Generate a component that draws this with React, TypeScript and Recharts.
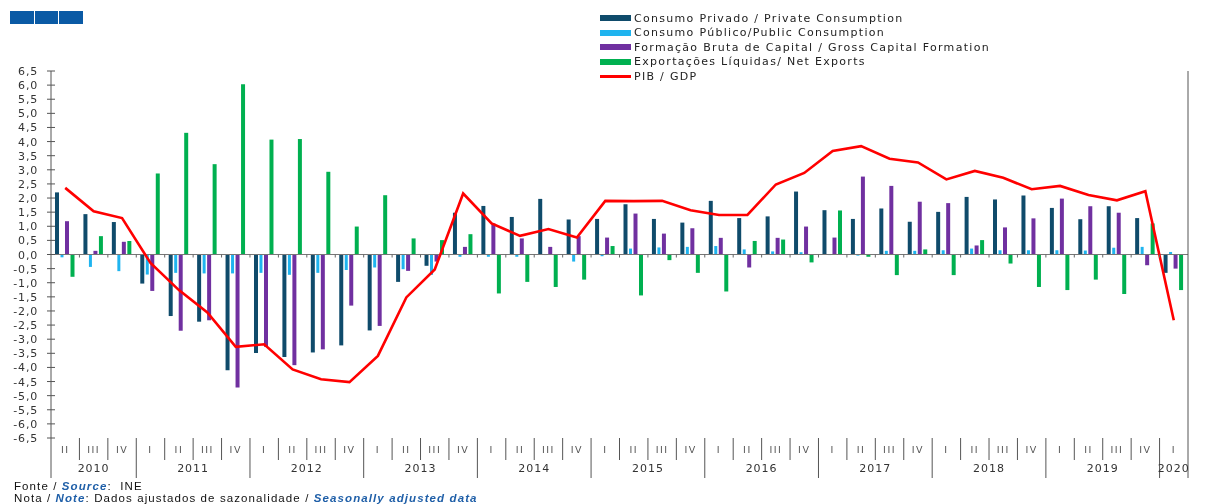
import React from "react";
import { Bar, ComposedChart, Line, ReferenceLine, XAxis, YAxis } from "recharts";

const quarters = [
  "II", "III", "IV",
  "I", "II", "III", "IV", "I", "II", "III", "IV", "I", "II", "III", "IV",
  "I", "II", "III", "IV", "I", "II", "III", "IV", "I", "II", "III", "IV",
  "I", "II", "III", "IV", "I", "II", "III", "IV", "I", "II", "III", "IV",
  "I",
];

const years = [
  "2010", "2010", "2010",
  "2011", "2011", "2011", "2011", "2012", "2012", "2012", "2012",
  "2013", "2013", "2013", "2013", "2014", "2014", "2014", "2014",
  "2015", "2015", "2015", "2015", "2016", "2016", "2016", "2016",
  "2017", "2017", "2017", "2017", "2018", "2018", "2018", "2018",
  "2019", "2019", "2019", "2019", "2020",
];

const privateConsumption = [
  2.2, 1.43, 1.15, -1.03, -2.18, -2.38, -4.1, -3.49, -3.63, -3.47,
  -3.22, -2.69, -0.97, -0.4, 1.48, 1.72, 1.33, 1.97, 1.24, 1.26,
  1.78, 1.26, 1.13, 1.9, 1.29, 1.35, 2.23, 1.57, 1.26, 1.63,
  1.16, 1.51, 2.04, 1.95, 2.09, 1.65, 1.25, 1.71, 1.29, -0.65,
];

const publicConsumption = [
  -0.1, -0.44, -0.59, -0.71, -0.65, -0.67, -0.67, -0.65, -0.72, -0.65,
  -0.55, -0.46, -0.52, -0.72, -0.08, -0.08, -0.08, -0.02, -0.25, -0.06,
  0.21, 0.25, 0.27, 0.3, 0.18, 0.11, 0.08, -0.02, -0.04, 0.13,
  0.13, 0.15, 0.21, 0.15, 0.15, 0.15, 0.14, 0.24, 0.27, 0.09,
];

const capitalFormation = [
  1.18, 0.13, 0.45, -1.29, -2.7, -2.33, -4.71, -3.27, -3.92, -3.36,
  -1.81, -2.53, -0.58, -0.25, 0.27, 1.1, 0.57, 0.27, 0.65, 0.6,
  1.45, 0.74, 0.93, 0.59, -0.46, 0.59, 0.99, 0.6, 2.76, 2.43,
  1.87, 1.82, 0.32, 0.96, 1.28, 1.98, 1.71, 1.48, -0.38, -0.5,
];

const netExports = [
  -0.79, 0.65, 0.48, 2.87, 4.31, 3.2, 6.03, 4.07, 4.09, 2.93,
  0.99, 2.1, 0.57, 0.51, 0.72, -1.38, -0.97, -1.15, -0.89, 0.3,
  -1.45, -0.2, -0.65, -1.31, 0.48, 0.53, -0.28, 1.56, -0.08, -0.73,
  0.18, -0.73, 0.51, -0.32, -1.15, -1.26, -0.89, -1.4, 1.1, -1.26,
];

const gdp = [
  2.36, 1.53, 1.29, -0.3, -1.26, -2.05, -3.27, -3.18, -4.07, -4.42,
  -4.52, -3.59, -1.52, -0.53, 2.16, 1.1, 0.66, 0.9, 0.6, 1.9,
  1.89, 1.9, 1.57, 1.4, 1.4, 2.48, 2.89, 3.67, 3.84, 3.39,
  3.26, 2.66, 2.96, 2.72, 2.31, 2.43, 2.11, 1.92, 2.24, -2.33,
];

const yTicks = [
  -6.5, -6, -5.5, -5, -4.5, -4, -3.5, -3, -2.5, -2, -1.5, -1, -0.5, 0,
  0.5, 1, 1.5, 2, 2.5, 3, 3.5, 4, 4.5, 5, 5.5, 6, 6.5,
];

const legendItems = [
  { label: "Consumo Privado / Private Consumption", color: "#0f4b6b", line: false },
  { label: "Consumo Público/Public Consumption", color: "#1fb4ef", line: false },
  { label: "Formação Bruta de Capital / Gross Capital Formation", color: "#7030a0", line: false },
  { label: "Exportações Líquidas/ Net Exports", color: "#00b050", line: false },
  { label: "PIB / GDP", color: "#ff0000", line: true },
];

const W = 1226;
const H = 504;
const TOP = 71;
const LEFT_W = 51;
const RIGHT_W = 38;
const X_H = 66;
const PLOT_W = W - LEFT_W - RIGHT_W;
const PLOT_H = H - TOP - X_H;
const BAND = PLOT_W / quarters.length;
const FONT = "'DejaVu Sans', Verdana, sans-serif";

const data = quarters.map((q, i) => ({
  key: `${years[i]}-${q}`,
  q,
  year: years[i],
  priv: privateConsumption[i],
  pub: publicConsumption[i],
  cap: capitalFormation[i],
  net: netExports[i],
  gdp: gdp[i],
}));

const yearSpan: Record<string, { first: number; last: number }> = {};
years.forEach((y, i) => {
  if (!yearSpan[y]) yearSpan[y] = { first: i, last: i };
  yearSpan[y].last = i;
});

const fmt = (v: number) => v.toFixed(1).replace(".", ",");

function QuarterTick(props: any) {
  const { x, y, payload } = props;
  const i = payload.index;
  const d = data[i];
  const right = x + BAND / 2;
  const last = i === data.length - 1;
  const yearEnd = last || data[i + 1].year !== d.year;
  const zeroY = y - PLOT_H / 2;
  const span = yearSpan[d.year];
  const mid = (span.first + span.last) / 2;
  return (
    <g>
      {i === 0 && (
        <line x1={x - BAND / 2} x2={x - BAND / 2} y1={y} y2={y + 40} stroke="#555" />
      )}
      <line x1={right} x2={right} y1={y} y2={y + (yearEnd ? 40 : 22)} stroke="#555" />
      {!last && (
        <line x1={right} x2={right} y1={zeroY} y2={zeroY + 3} stroke="#666" />
      )}
      <text
        x={x}
        y={y + 15}
        textAnchor="middle"
        fontFamily={FONT}
        fontSize={9.5}
        letterSpacing={1.5}
        fill="#555"
      >
        {d.q}
      </text>
      {Math.floor(mid) === i && (
        <text
          x={x + (mid - i) * BAND}
          y={y + 34}
          textAnchor="middle"
          fontFamily={FONT}
          fontSize={11}
          letterSpacing={1}
          fill="#333"
        >
          {d.year}
        </text>
      )}
    </g>
  );
}

function LeftTick(props: any) {
  const { x, y, payload } = props;
  return (
    <g>
      <line x1={x - 4} x2={x + 4} y1={y} y2={y} stroke="#555" />
      <text x={x - 13} y={y + 4} textAnchor="end" fontFamily={FONT} fontSize={11} letterSpacing={0.8} fill="#333">
        {fmt(payload.value)}
      </text>
    </g>
  );
}

function RightTick(props: any) {
  const { x, y, payload } = props;
  return (
    <g>
      <line x1={x - 4} x2={x + 4} y1={y} y2={y} stroke="#555" />
      <text x={x + 13} y={y + 4} textAnchor="start" fontFamily={FONT} fontSize={11} letterSpacing={0.8} fill="#333">
        {fmt(payload.value)}
      </text>
    </g>
  );
}

export default function App() {
  return (
    <div
      style={{
        position: "absolute",
        left: 0,
        top: 0,
        width: W,
        height: H,
        background: "#fff",
        willChange: "transform",
      }}
    >
      <div style={{ position: "absolute", left: 10, top: 11, display: "flex", gap: 1 }}>
        {[0, 1, 2].map((k) => (
          <div key={k} style={{ width: 23.5, height: 13, background: "#0a5aa5" }} />
        ))}
      </div>

      <div style={{ position: "absolute", left: 600, top: 11 }}>
        {legendItems.map((it) => (
          <div key={it.label} style={{ display: "flex", alignItems: "center", height: 14.5 }}>
            <span
              style={{
                width: 31,
                height: it.line ? 3 : 6,
                background: it.color,
                marginRight: 3,
                display: "inline-block",
              }}
            />
            <span style={{ fontFamily: FONT, fontSize: 11, letterSpacing: 1.3, color: "#222", whiteSpace: "nowrap" }}>
              {it.label}
            </span>
          </div>
        ))}
      </div>

      <ComposedChart
        width={W}
        height={H}
        data={data}
        margin={{ top: TOP, right: 0, bottom: 0, left: 0 }}
        barGap={1.5}
      >
        <XAxis
          dataKey="key"
          xAxisId="x"
          height={X_H}
          interval={0}
          axisLine={false}
          tickLine={false}
          tickSize={0}
          tickMargin={0}
          tick={<QuarterTick />}
        />
        <YAxis
          yAxisId="left"
          domain={[-6.5, 6.5]}
          ticks={yTicks}
          width={LEFT_W}
          interval={0}
          tickLine={false}
          tickSize={0}
          tickMargin={0}
          axisLine={{ stroke: "#555" }}
          tick={<LeftTick />}
        />
        <YAxis
          yAxisId="right"
          orientation="right"
          domain={[-6.5, 6.5]}
          ticks={yTicks}
          width={RIGHT_W}
          interval={0}
          tickLine={false}
          tickSize={0}
          tickMargin={0}
          axisLine={{ stroke: "#555" }}
          tick={<RightTick />}
        />
        <ReferenceLine xAxisId="x" yAxisId="left" y={0} stroke="#777" />
        <Bar xAxisId="x" yAxisId="left" dataKey="priv" fill="#0f4b6b" barSize={4} isAnimationActive={false} />
        <Bar xAxisId="x" yAxisId="left" dataKey="pub" fill="#1fb4ef" barSize={3} isAnimationActive={false} />
        <Bar xAxisId="x" yAxisId="left" dataKey="cap" fill="#7030a0" barSize={4} isAnimationActive={false} />
        <Bar xAxisId="x" yAxisId="left" dataKey="net" fill="#00b050" barSize={4} isAnimationActive={false} />
        <Line
          xAxisId="x"
          yAxisId="left"
          type="linear"
          dataKey="gdp"
          stroke="#ff0000"
          strokeWidth={2.6}
          dot={false}
          isAnimationActive={false}
        />
      </ComposedChart>

      <div
        style={{
          position: "absolute",
          left: 14,
          top: 480,
          fontFamily: "'Liberation Sans', Arial, sans-serif",
          fontSize: 11.5,
          letterSpacing: 1.1,
          lineHeight: "12px",
          color: "#111",
          whiteSpace: "nowrap",
        }}
      >
        <div>
          Fonte / <b style={{ color: "#1f5fa8", fontStyle: "italic" }}>Source</b>:&nbsp; INE
        </div>
        <div>
          Nota / <b style={{ color: "#1f5fa8", fontStyle: "italic" }}>Note</b>: Dados ajustados de sazonalidade /{" "}
          <b style={{ color: "#1f5fa8", fontStyle: "italic" }}>Seasonally adjusted data</b>
        </div>
      </div>
    </div>
  );
}
